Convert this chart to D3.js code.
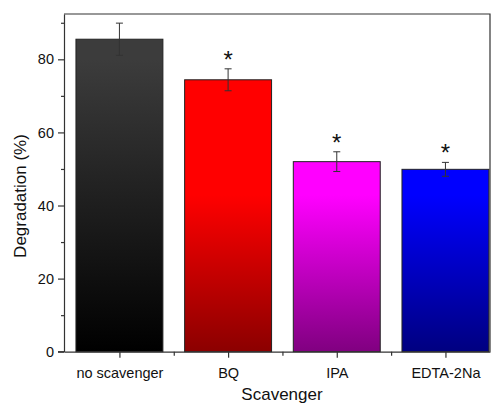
<!DOCTYPE html>
<html>
<head>
<meta charset="utf-8">
<script src="https://cdn.jsdelivr.net/npm/d3@7"></script>
<style>
  html, body { margin: 0; padding: 0; background: #fff; }
  svg { display: block; font-family: "Liberation Sans", Arial, sans-serif; }
</style>
</head>
<body>
<svg id="chart" width="495" height="405"></svg>
<script>
// Scavenger trapping experiment: degradation efficiency per scavenger
const categories = ["no scavenger", "BQ", "IPA", "EDTA-2Na"];
const degradation = [85.5, 74.4, 52.0, 49.9];
const errors = [4.4, 3.0, 2.7, 1.9];
const significant = [false, true, true, true];
const topColors = ["#3c3c3c", "#ff0000", "#ff00ff", "#0000ff"];
const bottomColors = ["#000000", "#8b0000", "#800080", "#000080"];
const yTicks = [0, 20, 40, 60, 80];
const yMinorTicks = [10, 30, 50, 70, 90];

const svg = d3.select("#chart");
const plot = { left: 64, right: 490, top: 14, bottom: 351.7 };

const x = d3.scaleLinear().domain([0.49, 4.41]).range([plot.left, plot.right]);
const y = d3.scaleLinear().domain([0, 92.4]).range([plot.bottom, plot.top]);
const barW = 0.8;

// vertical gradients, shared across the plot height
const defs = svg.append("defs");
categories.forEach((c, i) => {
  const g = defs.append("linearGradient")
    .attr("id", "grad" + i)
    .attr("gradientUnits", "userSpaceOnUse")
    .attr("x1", 0).attr("x2", 0)
    .attr("y1", i === 0 ? 60 : 195).attr("y2", plot.bottom);
  g.append("stop").attr("offset", 0).attr("stop-color", topColors[i]);
  g.append("stop").attr("offset", 1).attr("stop-color", bottomColors[i]);
});

// bars
svg.append("g").selectAll("rect")
  .data(degradation)
  .join("rect")
  .attr("x", (d, i) => x(i + 1 - barW / 2))
  .attr("width", (d, i) => x(i + 1 + barW / 2) - x(i + 1 - barW / 2))
  .attr("y", d => y(d))
  .attr("height", d => y(0) - y(d))
  .attr("fill", (d, i) => `url(#grad${i})`)
  .attr("stroke", "#222")
  .attr("stroke-width", 1);

// error bars
const eb = svg.append("g").attr("stroke", "#333").attr("stroke-width", 1);
degradation.forEach((d, i) => {
  const cx = x(i + 1);
  const hi = y(d + errors[i]), lo = y(d - errors[i]);
  eb.append("line").attr("x1", cx).attr("x2", cx).attr("y1", hi).attr("y2", lo);
  eb.append("line").attr("x1", cx - 3.5).attr("x2", cx + 3.5).attr("y1", hi).attr("y2", hi);
  eb.append("line").attr("x1", cx - 3.5).attr("x2", cx + 3.5).attr("y1", lo).attr("y2", lo);
});

// significance markers
svg.append("g").selectAll("text")
  .data(degradation.map((d, i) => ({ d, i })).filter(o => significant[o.i]))
  .join("text")
  .attr("x", o => x(o.i + 1))
  .attr("y", o => y(o.d + errors[o.i]) - 1)
  .attr("text-anchor", "middle")
  .attr("font-size", 24)
  .attr("fill", "#111")
  .text("*");

// frame (top and right)
svg.append("path")
  .attr("d", `M${plot.left},${plot.top}H${plot.right}V${plot.bottom}`)
  .attr("fill", "none").attr("stroke", "#333").attr("stroke-width", 1.2);

// y axis
svg.append("g").attr("transform", `translate(${plot.left},0)`)
  .call(d3.axisLeft(y).tickValues(yTicks).tickSize(6).tickPadding(4).tickSizeOuter(0));
svg.append("g").attr("transform", `translate(${plot.left},0)`)
  .call(d3.axisLeft(y).tickValues(yMinorTicks).tickSize(3).tickFormat("").tickSizeOuter(0))
  .select(".domain").remove();

// x axis
svg.append("g").attr("transform", `translate(0,${plot.bottom})`)
  .call(d3.axisBottom(x).tickValues([1, 2, 3, 4]).tickFormat((d) => categories[d - 1])
    .tickSize(6).tickPadding(10).tickSizeOuter(0));
svg.append("g").attr("transform", `translate(0,${plot.bottom})`)
  .call(d3.axisBottom(x).tickValues([1.5, 2.5, 3.5]).tickSize(4).tickFormat("").tickSizeOuter(0))
  .select(".domain").remove();

svg.selectAll(".tick line").attr("stroke", "#333").attr("stroke-width", 1.2);
svg.selectAll(".domain").attr("stroke", "#333").attr("stroke-width", 1.2);
svg.selectAll(".tick text").attr("font-size", 14.5).attr("fill", "#111")
  .attr("font-family", "Liberation Sans, Arial, sans-serif");

// extend baseline slightly left, as the 0 tick meets it
svg.append("line").attr("x1", plot.left - 6).attr("x2", plot.left)
  .attr("y1", plot.bottom).attr("y2", plot.bottom).attr("stroke", "#333").attr("stroke-width", 1.2);

// axis titles
svg.append("text")
  .attr("x", 282).attr("y", 400)
  .attr("text-anchor", "middle").attr("font-size", 17).attr("fill", "#111")
  .text("Scavenger");
svg.append("text")
  .attr("transform", "translate(26,196) rotate(-90)")
  .attr("text-anchor", "middle").attr("font-size", 17).attr("fill", "#111")
  .text("Degradation (%)");
</script>
</body>
</html>
